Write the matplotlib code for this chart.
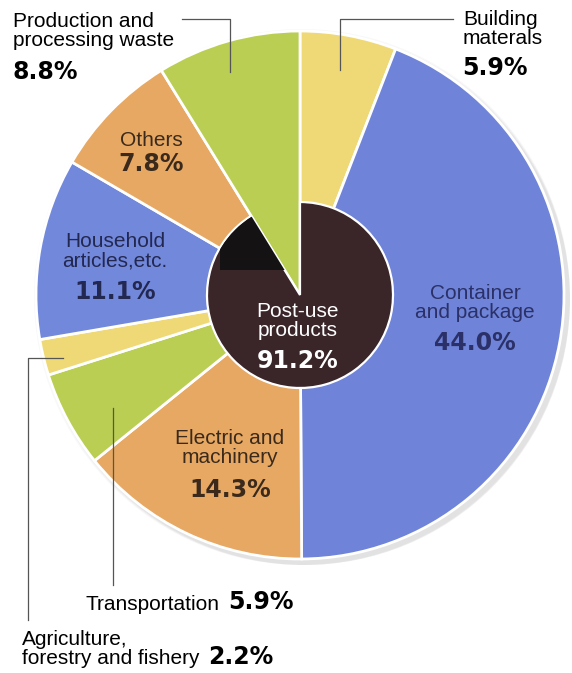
import numpy as np
import matplotlib.pyplot as plt
from matplotlib.patches import Wedge, Circle, Rectangle

# ---- data -------------------------------------------------------------
SECTORS = ["Building materals", "Container and package", "Electric and machinery",
           "Transportation", "Agriculture, forestry and fishery",
           "Household articles,etc.", "Others", "Production and processing waste"]
SHARES = [5.9, 44.0, 14.3, 5.9, 2.2, 11.1, 7.8, 8.8]
COLORS = ["#EFD976", "#6F84D8", "#E6A862", "#B9CE52", "#EFD976",
          "#7288DA", "#E6A862", "#B9CE52"]
POST_USE = 91.2          # inner disc, everything but processing waste

W, H = 572, 673
CX, CY = 300, H - 295    # pie centre (data coords, y up)
R_OUT, R_IN = 264, 93

fig = plt.figure(figsize=(W / 100, H / 100), dpi=100)
ax = fig.add_axes([0, 0, 1, 1])

# soft drop shadow under the disc
for k, a in enumerate([0.05, 0.05, 0.06, 0.07]):
    ax.add_patch(Circle((CX + 2 + k, CY - 2 - k), R_OUT + 4 - k,
                        color="#808080", alpha=a, lw=0, zorder=0))

ax.pie(SHARES, startangle=90, counterclock=False, colors=COLORS,
       center=(CX, CY), radius=R_OUT,
       wedgeprops=dict(edgecolor="white", linewidth=2.0), frame=True)

# inner disc: post-use products, leaving the waste wedge open
waste_deg = SHARES[-1] / 100 * 360
ax.add_patch(Wedge((CX, CY), R_IN, 90 + waste_deg, 90 + 360 * POST_USE / 100 + waste_deg,
                   facecolor="#3A2529", edgecolor="white", lw=1.6, zorder=3))
blk = Wedge((CX, CY), R_IN - 1, 90 + waste_deg, 175, facecolor="#151213",
            lw=0, zorder=4)
ax.add_patch(blk)
clip = Rectangle((220, H - 270), 200, 200, transform=ax.transData)
blk.set_clip_path(clip)

# ---- in-slice labels ---------------------------------------------------
FN = "Liberation Sans"
FS = 15
NUM = dict(family="DejaVu Sans", weight="bold", fontsize=17)

def inner(x, y, name, pct, col, dy=29):
    ax.text(x, H - y, name, family=FN, fontsize=FS, color=col, ha="center",
            va="center", linespacing=1.05, zorder=6)
    ax.text(x, H - y - dy, f"{pct:.1f}%", color=col, ha="center", va="center",
            zorder=6, **NUM)

inner(475, 303, "Container\nand package", SHARES[1], "#2B3168", dy=40)
inner(230, 448, "Electric and\nmachinery", SHARES[2], "#3B2A1C", dy=42)
inner(115, 251, "Household\narticles,etc.", SHARES[5], "#232851", dy=41)
inner(151, 140, "Others", SHARES[6], "#3B2A1C", dy=24)
inner(298, 321, "Post-use\nproducts", POST_USE, "white", dy=40)

# ---- outside labels with leader lines ---------------------------------
LC = dict(color="#555555", lw=0.9, zorder=7)

ax.text(13, H - 31, "Production and\nprocessing waste", family=FN, fontsize=FS,
        ha="left", va="center", linespacing=1.05, zorder=8,
        bbox=dict(facecolor="white", edgecolor="none", pad=1))
ax.text(12, H - 72, f"{SHARES[7]:.1f}%", ha="left", va="center", zorder=8, **NUM)
ax.plot([182, 230, 230], [H - 19, H - 19, H - 72], **LC)

ax.text(463, H - 29, "Building\nmaterals", family=FN, fontsize=FS,
        ha="left", va="center", linespacing=1.05, zorder=8)
ax.text(462, H - 68, f"{SHARES[0]:.1f}%", ha="left", va="center", zorder=8, **NUM)
ax.plot([453, 340, 340], [H - 19, H - 19, H - 70], **LC)

ax.text(85, H - 604, "Transportation", family=FN, fontsize=FS,
        ha="left", va="center", zorder=8)
ax.text(228, H - 602, f"{SHARES[3]:.1f}%", ha="left", va="center", zorder=8, **NUM)
ax.plot([113, 113], [H - 408, H - 585], **LC)

ax.text(22, H - 649, "Agriculture,\nforestry and fishery", family=FN, fontsize=FS,
        ha="left", va="center", linespacing=1.0, zorder=8)
ax.text(208, H - 657, f"{SHARES[4]:.1f}%", ha="left", va="center", zorder=8, **NUM)
ax.plot([63, 28, 28], [H - 358, H - 358, H - 620], **LC)

ax.set_xlim(0, W)
ax.set_ylim(0, H)
ax.set_aspect("auto")
ax.axis("off")
fig.savefig("out.png", dpi=100, facecolor="white")
